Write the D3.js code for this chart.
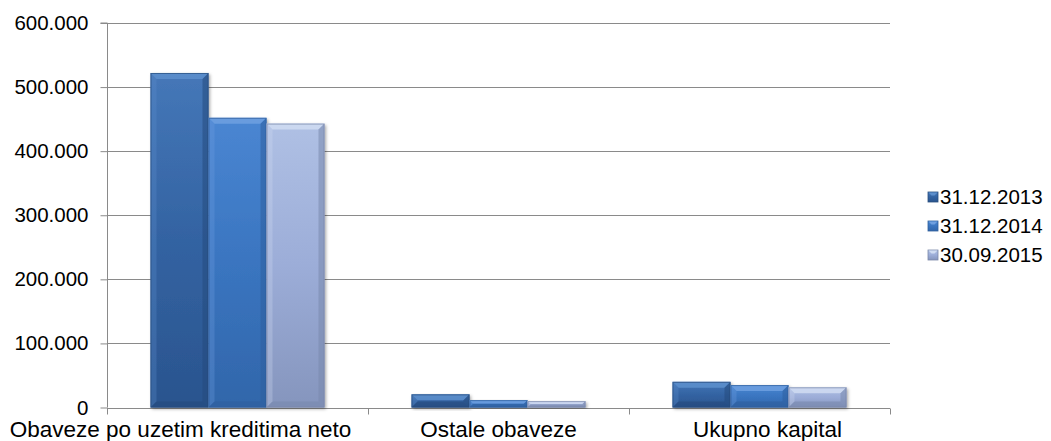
<!DOCTYPE html>
<html><head><meta charset="utf-8">
<script src="https://cdn.jsdelivr.net/npm/d3@7"></script>
<style>
html,body{margin:0;padding:0;background:#fff;}
svg{display:block;font-family:"Liberation Sans",Arial,sans-serif;}
</style></head>
<body>
<svg id="c" width="1051" height="441"></svg>
<script>
const categories = ["Obaveze po uzetim kreditima neto", "Ostale obaveze", "Ukupno kapital"];
const seriesNames = ["31.12.2013", "31.12.2014", "30.09.2015"];
const s2013 = [522000, 20500, 40000];
const s2014 = [452000, 11500, 35000];
const s2015 = [443000, 10000, 31500];
const yTicks = [0, 100000, 200000, 300000, 400000, 500000, 600000];

const seriesValues = [s2013, s2014, s2015];
const colors = [
  {top:"#4577b8", mid:"#3363a2", bot:"#2a548e", light:"#5d8fcc", dark:"#244a7d", edge:"#2a4f7e"},
  {top:"#4a86d2", mid:"#3a75c0", bot:"#3166aa", light:"#6fa0e0", dark:"#2e5f9f", edge:"#30609c"},
  {top:"#afc0e4", mid:"#9cadd8", bot:"#8595bd", light:"#d0dcf2", dark:"#7888ad", edge:"#7b88a8"}
];

const svg = d3.select("#c");
const L = 107, R = 890, T = 23, B = 407.5;
const x0 = d3.scaleBand().domain(categories).range([L, R]).paddingInner(0).paddingOuter(0);
const x1 = d3.scaleBand().domain(seriesNames).range([0, x0.bandwidth()]).paddingInner(0).paddingOuter(0.75);
const y = d3.scaleLinear().domain([0, 600000]).range([B, T]);
const loc = d3.formatLocale({decimal:",", thousands:".", grouping:[3], currency:["",""]});
const fmt = loc.format(",d");

const defs = svg.append("defs");
colors.forEach((c,i)=>{
  const g = defs.append("linearGradient").attr("id","g"+i).attr("x1",0).attr("y1",0).attr("x2",0).attr("y2",1);
  g.append("stop").attr("offset","0%").attr("stop-color",c.top);
  g.append("stop").attr("offset","50%").attr("stop-color",c.mid);
  g.append("stop").attr("offset","100%").attr("stop-color",c.bot);
});
const sh = defs.append("filter").attr("id","sh").attr("x","-10%").attr("y","-10%").attr("width","130%").attr("height","130%");
sh.append("feDropShadow").attr("dx",1.5).attr("dy",1.5).attr("stdDeviation",1.5).attr("flood-color","#000").attr("flood-opacity",0.35);

// gridlines
svg.append("g").selectAll("line").data(yTicks.filter(d=>d>0)).join("line")
  .attr("x1",L).attr("x2",R).attr("y1",d=>Math.round(y(d))+0.5).attr("y2",d=>Math.round(y(d))+0.5)
  .attr("stroke","#8a8a8a").attr("stroke-width",1);

// y axis
const yAxis = d3.axisLeft(y).tickValues(yTicks).tickFormat(d=>d===0?"0":fmt(d)).tickSize(7).tickPadding(12);
const yg = svg.append("g").attr("transform",`translate(${L+0.5},0)`).call(yAxis);
yg.select(".domain").attr("stroke","#8a8a8a").attr("d",`M-7,${T}H0V${B}`);
yg.selectAll(".tick line").attr("stroke","#8a8a8a");
yg.selectAll(".tick text").attr("font-size","20.5px").attr("fill","#000").attr("font-family","Liberation Sans, Arial, sans-serif");

// x axis
const xg = svg.append("g").attr("transform",`translate(0,${Math.round(B)+0.5})`);
xg.append("line").attr("x1",L).attr("x2",R).attr("stroke","#8a8a8a");
const bounds = categories.map(c=>x0(c)).concat([x0(categories[categories.length-1])+x0.bandwidth()]);
xg.selectAll("line.t").data(bounds).join("line").attr("class","t")
  .attr("x1",d=>Math.round(d)+0.5).attr("x2",d=>Math.round(d)+0.5).attr("y1",0).attr("y2",6).attr("stroke","#8a8a8a");
const labelShift = [-57, 0, 8];
xg.selectAll("text").data(categories).join("text")
  .attr("x",(d,i)=>x0(d)+x0.bandwidth()/2+labelShift[i]).attr("y",28.5)
  .attr("text-anchor","middle").attr("font-size","22.5px").attr("fill","#000").text(d=>d);

// bars with bevel
const bars = [];
categories.forEach((c,ci)=>{
  seriesNames.forEach((s,si)=>{
    bars.push({c, s, si, v: seriesValues[si][ci]});
  });
});
const bg = svg.append("g");
bars.forEach(b=>{
  const bx = x0(b.c)+x1(b.s), bw = x1.bandwidth();
  const by = y(b.v), bh = B - by;
  const c = colors[b.si];
  const g = bg.append("g");
  g.append("rect").attr("x",bx).attr("y",by).attr("width",bw).attr("height",bh).attr("fill",`url(#g${b.si})`).attr("filter","url(#sh)");
  const e = Math.min(6, bh/2, bw/2);
  const x2 = bx+bw, y2 = by+bh;
  g.append("path").attr("d",`M${bx},${by}L${x2},${by}L${x2-e},${by+e}L${bx+e},${by+e}Z`).attr("fill",c.light).attr("opacity",0.85);
  g.append("path").attr("d",`M${bx},${by}L${bx+e},${by+e}L${bx+e},${y2-e}L${bx},${y2}Z`).attr("fill",c.light).attr("opacity",0.3);
  g.append("path").attr("d",`M${x2},${by}L${x2},${y2}L${x2-e},${y2-e}L${x2-e},${by+e}Z`).attr("fill",c.dark).attr("opacity",0.55);
  g.append("path").attr("d",`M${bx},${y2}L${x2},${y2}L${x2-e},${y2-e}L${bx+e},${y2-e}Z`).attr("fill",c.dark).attr("opacity",0.6);
  g.append("rect").attr("x",bx+0.5).attr("y",by+0.5).attr("width",bw-1).attr("height",Math.max(0,bh-1))
    .attr("fill","none").attr("stroke",c.edge).attr("stroke-width",1).attr("opacity",0.7);
});

// legend
const lg = svg.append("g").attr("transform","translate(928,0)");
const ly = d3.scalePoint().domain(seriesNames).range([197, 255]);
seriesNames.forEach((s,i)=>{
  const c = colors[i];
  const g = lg.append("g").attr("transform",`translate(0,${ly(s)})`);
  g.append("rect").attr("x",0).attr("y",-5).attr("width",10).attr("height",10).attr("fill",`url(#g${i})`).attr("stroke",c.edge).attr("stroke-width",0.8);
  g.append("path").attr("d","M0.5,-4.5L9.5,-4.5L6.5,-1.5L3.5,-1.5Z").attr("fill",c.light);
  g.append("text").attr("x",12).attr("y",0).attr("dy","0.36em").attr("font-size","20.5px").attr("fill","#000").text(s);
});
</script>
</body></html>
